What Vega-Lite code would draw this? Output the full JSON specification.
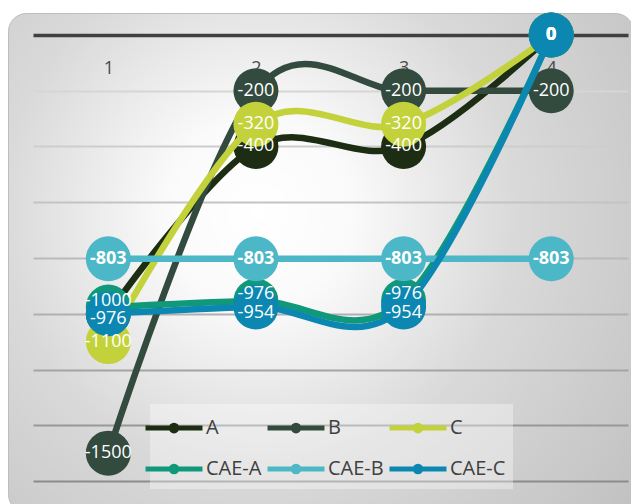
{
  "$schema": "https://vega.github.io/schema/vega-lite/v6.json",
  "width": 625,
  "height": 499,
  "autosize": {"type": "none"},
  "padding": {"left": 8, "top": 13, "right": 0, "bottom": 0},
  "background": "white",
  "config": {
    "font": "Open Sans",
    "view": {
      "fill": {
        "gradient": "radial",
        "x1": 0.4, "y1": 0.42, "r1": 0,
        "x2": 0.4, "y2": 0.42, "r2": 0.75,
        "stops": [
          {"offset": 0, "color": "#ffffff"},
          {"offset": 0.2, "color": "#fafafa"},
          {"offset": 0.55, "color": "#d9d9d9"},
          {"offset": 1, "color": "#c2c2c2"}
        ]
      },
      "cornerRadius": 18,
      "stroke": "#bdbdbd",
      "strokeWidth": 1
    }
  },
  "data": {
    "values": [
      {"s": "A", "x": 1, "v": -1000},
      {"s": "A", "x": 2, "v": -400},
      {"s": "A", "x": 3, "v": -400},
      {"s": "A", "x": 4, "v": 0},
      {"s": "B", "x": 1, "v": -1500},
      {"s": "B", "x": 2, "v": -200},
      {"s": "B", "x": 3, "v": -200},
      {"s": "B", "x": 4, "v": -200},
      {"s": "C", "x": 1, "v": -1100},
      {"s": "C", "x": 2, "v": -320},
      {"s": "C", "x": 3, "v": -320},
      {"s": "C", "x": 4, "v": 0},
      {"s": "CAE-A", "x": 1, "v": -976},
      {"s": "CAE-A", "x": 2, "v": -954},
      {"s": "CAE-A", "x": 3, "v": -954},
      {"s": "CAE-A", "x": 4, "v": 0},
      {"s": "CAE-B", "x": 1, "v": -803},
      {"s": "CAE-B", "x": 2, "v": -803},
      {"s": "CAE-B", "x": 3, "v": -803},
      {"s": "CAE-B", "x": 4, "v": -803},
      {"s": "CAE-C", "x": 1, "v": -1000},
      {"s": "CAE-C", "x": 2, "v": -976},
      {"s": "CAE-C", "x": 3, "v": -976},
      {"s": "CAE-C", "x": 4, "v": 0}
    ]
  },
  "encoding": {
    "x": {
      "field": "x",
      "type": "quantitative",
      "scale": {"domain": [0.49, 4.52], "range": [25, 620], "nice": false, "zero": false},
      "axis": {
        "orient": "top",
        "offset": -22,
        "values": [1, 2, 3, 4],
        "format": "d",
        "title": null,
        "ticks": false,
        "grid": false,
        "domain": true,
        "domainColor": "#404040",
        "domainWidth": 3.5,
        "labelPadding": -24,
        "labelBaseline": "top",
        "labelFontSize": 18,
        "labelColor": "#4a4a4a",
        "labelFont": "Open Sans",
        "labelFlush": false
      }
    },
    "y": {
      "field": "v",
      "type": "quantitative",
      "scale": {"domain": [-1711.2, 78.9], "nice": false, "zero": false},
      "axis": {
        "values": [-1600, -1400, -1200, -1000, -800, -600, -400, -200],
        "labels": false,
        "ticks": false,
        "domain": false,
        "title": null,
        "grid": true,
        "gridWidth": 2,
        "gridOpacity": 1,
        "gridColor": {
          "condition": [
            {"test": "datum.value >= -200", "value": "#d6d6d6"},
            {"test": "datum.value >= -400", "value": "#cdcdcd"},
            {"test": "datum.value >= -600", "value": "#c4c4c4"},
            {"test": "datum.value >= -800", "value": "#bababa"},
            {"test": "datum.value >= -1000", "value": "#b0b0b0"},
            {"test": "datum.value >= -1200", "value": "#a4a4a4"},
            {"test": "datum.value >= -1400", "value": "#989898"}
          ],
          "value": "#8c8c8c"
        }
      }
    },
    "color": {
      "field": "s",
      "type": "nominal",
      "scale": {
        "domain": ["A", "B", "C", "CAE-A", "CAE-B", "CAE-C"],
        "range": ["#1c2d14", "#334a3e", "#c3d23a", "#0f987a", "#4bb7c7", "#0b87b1"]
      },
      "legend": {
        "orient": "none",
        "legendX": 142,
        "legendY": 391,
        "direction": "horizontal",
        "columns": 3,
        "title": null,
        "symbolType": "M-2,0H2M0.2,0A0.2,0.2,0,1,1,-0.2,0A0.2,0.2,0,1,1,0.2,0",
        "symbolSize": 812,
        "symbolStrokeWidth": 5,
        "symbolOpacity": 1,
        "labelFontSize": 20,
        "labelFont": "Open Sans",
        "labelColor": "#404040",
        "labelOffset": 15,
        "columnPadding": -5,
        "rowPadding": 11,
        "padding": 7,
        "fillColor": "rgba(255,255,255,0.35)",
        "encode": {
          "symbols": {
            "update": {
              "fill": {"scale": "color", "field": "value"},
              "stroke": {"scale": "color", "field": "value"}
            }
          }
        }
      }
    }
  },
  "layer": [
    {
      "transform": [{"filter": "datum.s === 'A'"}],
      "mark": {"type": "line", "interpolate": "cardinal", "strokeWidth": 6.5, "point": {"filled": true, "size": 2025, "opacity": 1}}
    },
    {
      "transform": [{"filter": "datum.s === 'B'"}],
      "mark": {"type": "line", "interpolate": "cardinal", "strokeWidth": 6.5, "point": {"filled": true, "size": 2025, "opacity": 1}}
    },
    {
      "transform": [{"filter": "datum.s === 'C'"}],
      "mark": {"type": "line", "interpolate": "cardinal", "strokeWidth": 6.5, "point": {"filled": true, "size": 2025, "opacity": 1}}
    },
    {
      "transform": [{"filter": "datum.s === 'CAE-A'"}],
      "mark": {"type": "line", "interpolate": "cardinal", "strokeWidth": 6.5, "point": {"filled": true, "size": 2025, "opacity": 1}}
    },
    {
      "transform": [{"filter": "datum.s === 'CAE-B'"}],
      "mark": {"type": "line", "interpolate": "cardinal", "strokeWidth": 6.5, "point": {"filled": true, "size": 2025, "opacity": 1}}
    },
    {
      "transform": [{"filter": "datum.s === 'CAE-C'"}],
      "mark": {"type": "line", "interpolate": "cardinal", "strokeWidth": 6.5, "point": {"filled": true, "size": 2025, "opacity": 1}}
    },
    {
      "transform": [{"filter": "!(datum.s === 'A' && datum.x === 1) && !((datum.s === 'CAE-A' || datum.s === 'CAE-C') && datum.x < 4)"}],
      "mark": {
        "type": "text",
        "fontSize": 18,
        "font": "Open Sans",
        "fontWeight": {"expr": "datum.s === 'CAE-B' || datum.v === 0 ? 'bold' : 'normal'"},
        "align": "center",
        "baseline": "middle"
      },
      "encoding": {
        "text": {"field": "v", "type": "nominal"},
        "color": {"value": "white"}
      }
    },
    {
      "transform": [{"filter": "datum.s === 'CAE-C' && datum.x < 4"}],
      "mark": {"type": "text", "fontSize": 18, "font": "Open Sans", "align": "center", "baseline": "middle", "dy": -13},
      "encoding": {
        "text": {"field": "v", "type": "nominal"},
        "color": {"value": "white"}
      }
    },
    {
      "transform": [{"filter": "datum.s === 'CAE-A' && datum.x < 4"}],
      "mark": {"type": "text", "fontSize": 18, "font": "Open Sans", "align": "center", "baseline": "middle", "dy": 12},
      "encoding": {
        "text": {"field": "v", "type": "nominal"},
        "color": {"value": "white"}
      }
    }
  ]
}
